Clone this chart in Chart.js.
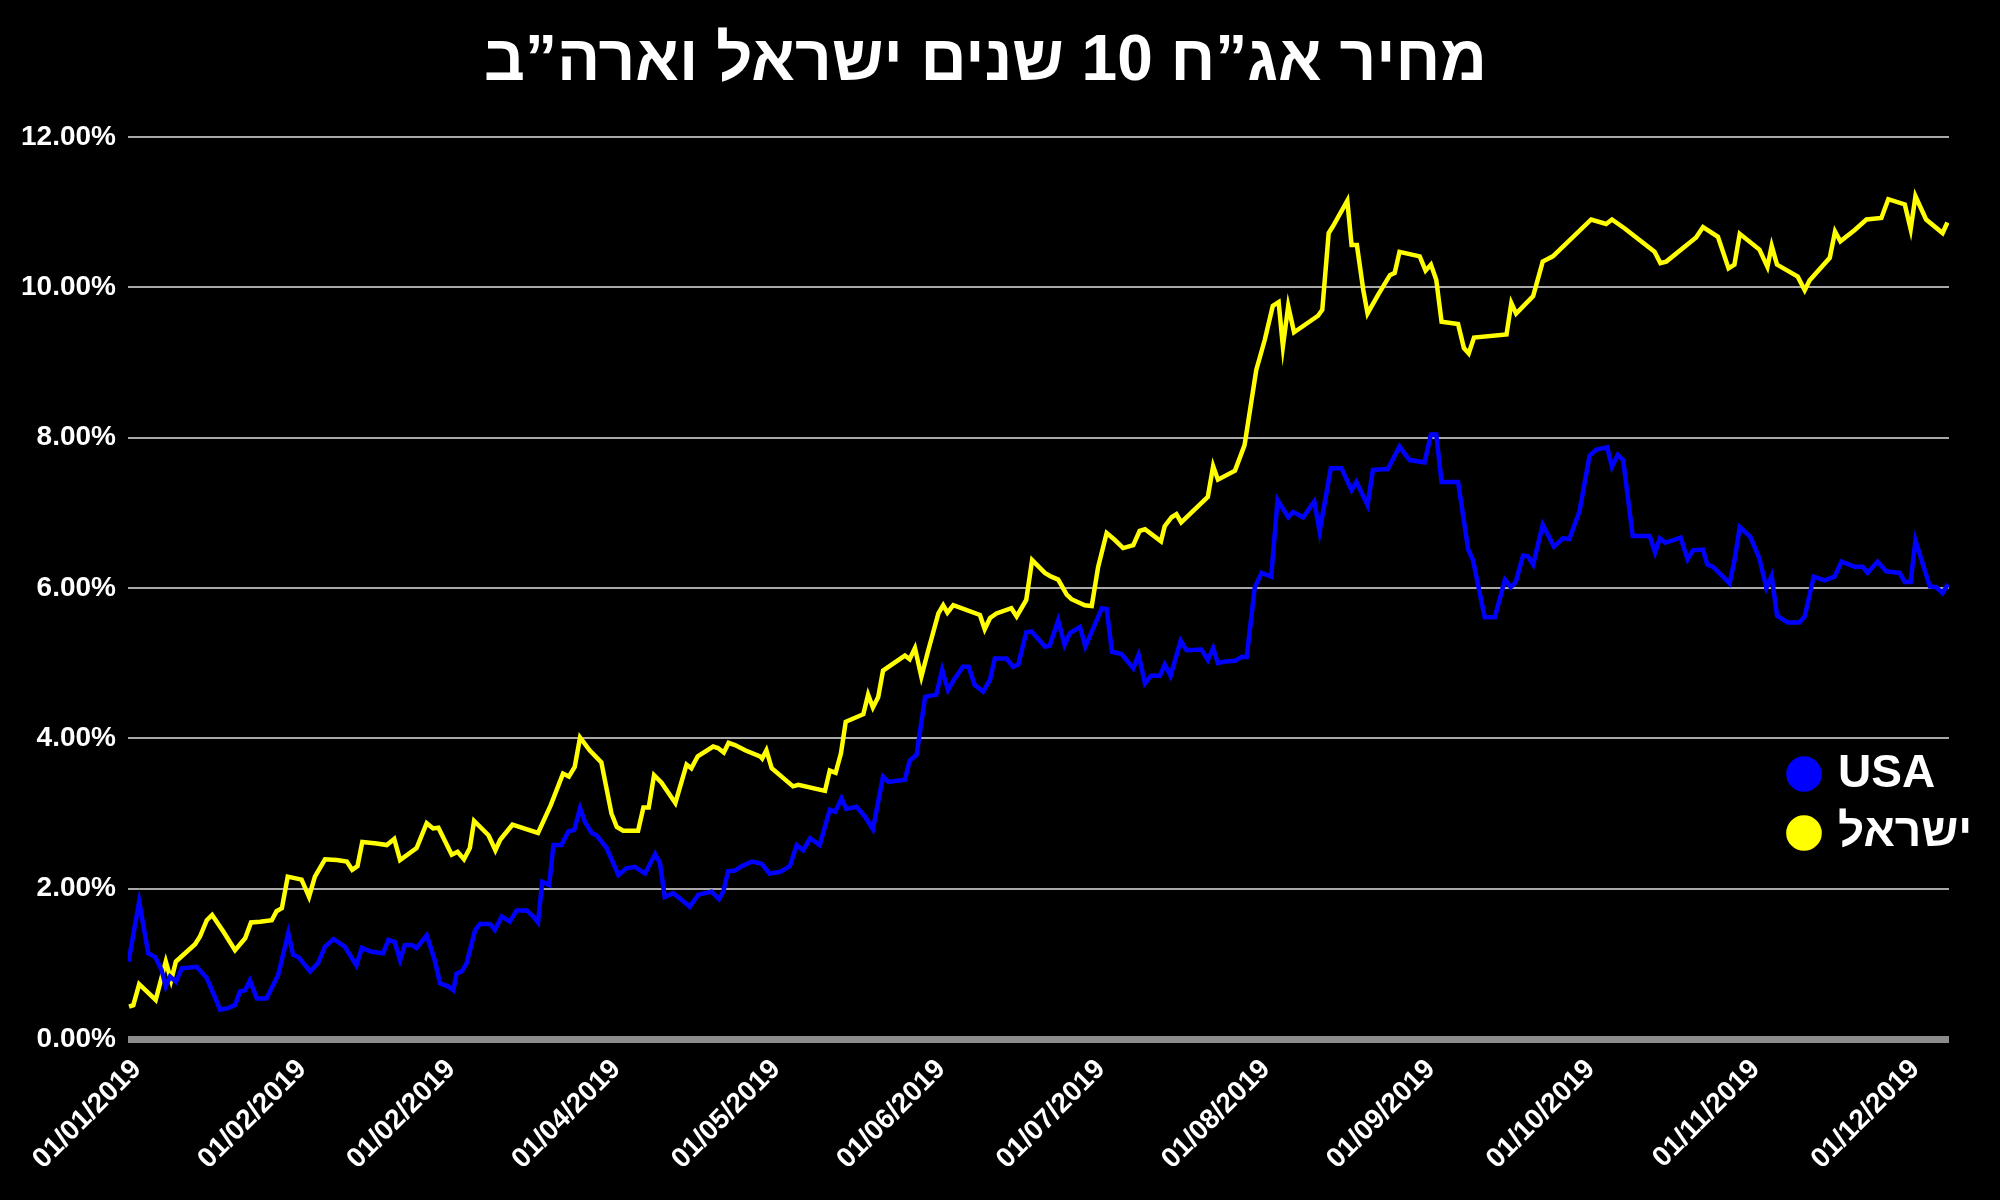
<!DOCTYPE html>
<html>
<head>
<meta charset="utf-8">
<script src="https://cdn.jsdelivr.net/npm/chart.js@4.4.1/dist/chart.umd.min.js"></script>
<style>
html,body{margin:0;padding:0;background:#000;}
#wrap{width:2000px;height:1200px;background:#000;}
</style>
</head>
<body>
<div id="wrap"><canvas id="c" width="2000" height="1200"></canvas></div>
<script>
// ---- data ----
const titleText = 'מחיר אג”ח 10 שנים ישראל וארה”ב';
const seriesNames = ['USA', 'ישראל'];
const seriesColors = ['#0000ff', '#ffff00'];
const xTickDays = [0, 31, 59, 90, 120, 151, 181, 212, 243, 273, 304, 334];
const xTickLabels = ['01/01/2019', '01/02/2019', '01/02/2019', '01/04/2019', '01/05/2019', '01/06/2019',
  '01/07/2019', '01/08/2019', '01/09/2019', '01/10/2019', '01/11/2019', '01/12/2019'];
const yTickValues = [0, 2, 4, 6, 8, 10, 12];

const usaDays = [0.1,2.1,3.8,5.1,6.3,7.1,7.9,9.0,10.1,12.9,
  14.8,16.0,17.3,18.8,20.1,21.0,22.0,22.9,24.2,26.0,
  28.2,30.1,31.0,32.0,34.2,35.7,37.0,38.6,40.7,42.9,
  43.9,45.8,47.9,48.9,50.1,51.1,52.0,53.3,54.2,56.1,
  57.6,58.6,60.1,61.1,61.7,62.7,63.6,65.2,66.1,68.0,
  68.9,70.2,71.7,73.0,74.9,76.1,77.0,77.8,79.1,79.9,
  81.4,82.7,83.8,84.9,85.8,87.1,88.0,89.9,92.1,93.6,
  95.2,97.1,99.0,99.9,100.8,102.4,104.0,105.5,107.1,109.6,
  111.0,111.8,112.7,114.0,115.3,117.2,119.0,120.5,122.4,124.3,
  125.6,126.8,128.1,129.9,131.8,132.8,134.0,134.9,136.8,138.4,
  139.9,141.8,142.8,145.9,146.8,148.1,149.7,151.8,152.9,154.0,
  155.3,156.8,157.9,159.0,160.6,161.9,162.8,165.0,166.2,167.2,
  168.7,169.7,172.2,173.1,174.7,175.9,176.9,178.8,179.8,182.9,
  183.8,184.8,186.6,188.8,189.8,191.0,192.1,193.8,194.7,195.8,
  197.7,198.8,201.6,202.8,203.8,204.7,206.0,207.9,209.1,210.1,
  211.6,212.9,214.7,215.9,217.9,218.8,220.7,222.8,223.8,225.9,
  227.9,229.8,230.7,232.8,233.8,236.6,238.8,240.7,243.5,244.7,
  245.7,246.7,249.8,251.7,252.6,254.8,256.7,258.6,259.7,260.6,
  262.0,262.9,263.9,265.7,267.8,269.5,270.7,272.6,274.5,275.8,
  277.8,278.7,279.8,280.8,282.6,285.8,286.8,287.7,288.7,291.6,
  292.9,293.9,295.8,296.6,297.7,300.8,301.7,302.7,304.7,306.4,
  307.7,308.7,309.7,311.7,313.9,314.9,316.6,318.6,320.5,321.8,
  324.3,325.8,326.7,328.6,330.2,332.7,333.7,334.8,335.7,338.4,
  339.6,340.8,341.8];
const usaValues = [1.03,1.83,1.14,1.09,0.92,0.70,0.83,0.76,0.94,0.96,
  0.81,0.61,0.39,0.41,0.45,0.63,0.65,0.78,0.54,0.54,
  0.85,1.41,1.12,1.09,0.90,1.01,1.23,1.33,1.23,0.98,
  1.21,1.16,1.14,1.32,1.29,1.05,1.25,1.25,1.21,1.38,
  1.05,0.74,0.70,0.65,0.87,0.90,1.01,1.45,1.53,1.53,
  1.45,1.63,1.56,1.71,1.71,1.63,1.55,2.09,2.05,2.58,
  2.58,2.76,2.78,3.07,2.89,2.74,2.71,2.54,2.18,2.27,
  2.29,2.20,2.46,2.34,1.89,1.94,1.85,1.76,1.92,1.96,
  1.86,1.96,2.23,2.24,2.30,2.36,2.33,2.20,2.22,2.30,
  2.58,2.51,2.67,2.58,3.05,3.02,3.20,3.06,3.09,2.96,
  2.79,3.49,3.42,3.45,3.70,3.78,4.55,4.58,4.91,4.64,
  4.80,4.95,4.95,4.71,4.62,4.78,5.06,5.06,4.95,4.98,
  5.41,5.42,5.22,5.23,5.57,5.24,5.40,5.48,5.22,5.73,
  5.72,5.15,5.12,4.93,5.11,4.73,4.83,4.83,4.98,4.83,
  5.30,5.17,5.18,5.04,5.20,5.00,5.02,5.03,5.08,5.08,
  6.00,6.20,6.15,7.17,6.94,7.01,6.94,7.15,6.75,7.59,
  7.59,7.30,7.41,7.10,7.57,7.58,7.88,7.70,7.67,8.04,
  8.04,7.41,7.41,6.51,6.37,5.61,5.61,6.11,6.01,6.07,
  6.43,6.42,6.31,6.84,6.55,6.66,6.65,7.02,7.76,7.84,
  7.87,7.61,7.77,7.70,6.69,6.69,6.47,6.66,6.60,6.67,
  6.38,6.50,6.51,6.31,6.28,6.06,6.36,6.81,6.68,6.39,
  6.00,6.16,5.63,5.54,5.54,5.62,6.15,6.10,6.15,6.35,
  6.28,6.28,6.20,6.35,6.22,6.20,6.08,6.08,6.63,6.02,
  6.01,5.93,6.05];

const israelDays = [0.2,1.0,2.1,5.2,7.1,8.1,9.0,12.6,13.5,14.8,
  15.8,17.9,20.1,22.0,23.1,24.8,27.0,27.9,28.9,30.0,
  32.6,34.0,35.1,37.0,39.2,41.1,42.1,43.1,44.0,46.7,
  48.6,50.0,51.1,54.2,56.1,57.3,58.3,60.8,61.9,63.1,
  64.2,65.0,67.7,69.0,69.9,72.2,77.0,79.4,81.7,82.8,
  83.9,84.9,86.7,88.9,90.8,91.8,93.0,95.8,96.8,97.8,
  98.8,100.2,102.8,104.9,105.8,107.0,109.9,110.8,111.9,112.8,
  114.0,115.9,118.7,119.1,119.9,120.9,124.9,125.9,130.9,131.8,
  132.9,133.9,134.8,138.1,139.0,139.9,140.9,141.8,145.9,146.8,
  147.8,149.0,150.3,152.2,153.1,153.9,155.0,160.0,160.9,161.9,
  163.1,165.9,166.9,168.7,169.8,172.2,173.4,174.7,176.3,177.2,
  179.7,181.0,182.2,183.8,185.3,186.9,188.8,190.0,191.0,194.0,
  194.7,196.0,196.9,197.8,202.8,203.8,204.7,207.9,209.7,211.9,
  213.5,215.0,216.1,216.9,217.9,219.0,223.5,224.3,225.5,226.3,
  229.0,229.8,230.8,232.0,232.8,234.8,237.0,237.9,238.8,242.6,
  243.7,244.7,245.7,246.7,249.8,250.9,251.8,252.8,258.9,259.8,
  260.7,263.9,265.7,267.6,274.8,277.6,278.7,281.1,286.7,287.8,
  288.9,294.5,295.8,298.6,300.6,301.7,302.7,306.4,307.9,308.7,
  309.7,313.6,314.9,315.8,319.6,320.6,321.6,324.3,326.5,329.3,
  330.6,333.7,334.8,335.7,337.7,340.8,341.7];
const israelValues = [0.43,0.45,0.73,0.52,1.03,0.78,1.03,1.26,1.36,1.58,
  1.65,1.43,1.18,1.34,1.55,1.56,1.58,1.70,1.74,2.16,
  2.12,1.89,2.16,2.39,2.38,2.36,2.25,2.30,2.62,2.60,
  2.58,2.66,2.38,2.54,2.87,2.80,2.81,2.45,2.49,2.39,
  2.54,2.90,2.71,2.51,2.65,2.85,2.74,3.11,3.53,3.49,
  3.62,4.01,3.84,3.68,3.00,2.82,2.77,2.77,3.08,3.08,
  3.51,3.41,3.14,3.65,3.60,3.76,3.89,3.87,3.81,3.94,
  3.91,3.84,3.76,3.73,3.84,3.60,3.36,3.38,3.30,3.57,
  3.54,3.80,4.22,4.32,4.58,4.41,4.55,4.90,5.10,5.05,
  5.20,4.82,5.17,5.66,5.77,5.67,5.77,5.64,5.45,5.60,
  5.66,5.73,5.62,5.84,6.37,6.20,6.15,6.11,5.91,5.85,
  5.77,5.76,6.28,6.73,6.64,6.53,6.57,6.76,6.78,6.62,
  6.82,6.94,6.98,6.87,7.21,7.62,7.44,7.56,7.90,8.90,
  9.30,9.75,9.80,9.21,9.75,9.40,9.62,9.70,10.72,10.81,
  11.15,10.56,10.56,9.96,9.65,9.90,10.16,10.19,10.47,10.41,
  10.22,10.30,10.10,9.54,9.51,9.19,9.12,9.33,9.37,9.79,
  9.65,9.88,10.34,10.41,10.90,10.84,10.90,10.78,10.47,10.32,
  10.34,10.66,10.80,10.67,10.25,10.30,10.71,10.50,10.27,10.55,
  10.30,10.14,9.96,10.09,10.39,10.74,10.61,10.76,10.90,10.92,
  11.17,11.10,10.77,11.21,10.90,10.72,10.86];

// ---- chart ----
const FONT = '"Liberation Sans", Arial, "DejaVu Sans", sans-serif';
const toPoints = (xs, ys) => xs.map((x, i) => ({ x: x, y: ys[i] }));

const legendPlacer = {
  id: 'legendPlacer',
  afterLayout(chart) {
    const l = chart.legend;
    if (!l) return;
    const h = l.height;
    l.left = 1780; l.top = 738;
    l.right = l.left + l.width; l.bottom = l.top + h;
  }
};

new Chart(document.getElementById('c'), {
  type: 'line',
  data: {
    datasets: [
      { label: seriesNames[0], data: toPoints(usaDays, usaValues), borderColor: seriesColors[0], backgroundColor: seriesColors[0],
        borderWidth: 4.5, pointRadius: 0, tension: 0, pointStyle: 'circle' },
      { label: seriesNames[1], data: toPoints(israelDays, israelValues), borderColor: seriesColors[1], backgroundColor: seriesColors[1],
        borderWidth: 4.5, pointRadius: 0, tension: 0, pointStyle: 'circle' }
    ]
  },
  options: {
    responsive: false,
    animation: false,
    events: [],
    layout: { padding: { left: 22, right: 51, top: 0, bottom: 0 } },
    plugins: {
      title: { display: true, text: titleText, color: '#ffffff',
        font: { family: FONT, size: 64, weight: 'bold', lineHeight: 1.2 }, padding: { top: 24, bottom: 36 } },
      legend: { position: 'chartArea', align: 'start',
        labels: { usePointStyle: true, pointStyle: 'circle', boxWidth: 22, boxHeight: 22, color: '#ffffff', padding: 13,
          font: { family: FONT, size: 46, weight: 'bold', lineHeight: 1 } } },
      tooltip: { enabled: false }
    },
    scales: {
      x: {
        type: 'linear', min: 0, max: 342,
        afterBuildTicks: (s) => { s.ticks = xTickDays.map(v => ({ value: v })); },
        afterFit: (s) => { s.height = 161; },
        ticks: { autoSkip: false, minRotation: 45, maxRotation: 45, color: '#ffffff', padding: 14, labelOffset: 9,
          font: { family: FONT, size: 28, weight: 'bold' },
          callback: (v, i) => xTickLabels[i] },
        grid: { display: false, drawTicks: false },
        border: { display: false }
      },
      y: {
        min: 0, max: 12,
        afterBuildTicks: (s) => { s.ticks = yTickValues.map(v => ({ value: v })); },
        afterFit: (s) => { s.width = 106; },
        ticks: { color: '#ffffff', padding: 12, font: { family: FONT, size: 28, weight: 'bold' },
          callback: (v) => Number(v).toFixed(2) + '%' },
        grid: { drawTicks: false,
          color: (c) => (c.tick && c.tick.value === 0) ? '#8c8c8c' : '#a8a8a8',
          lineWidth: (c) => (c.tick && c.tick.value === 0) ? 7 : 2 },
        border: { display: false }
      }
    }
  },
  plugins: [legendPlacer]
});
</script>
</body>
</html>
